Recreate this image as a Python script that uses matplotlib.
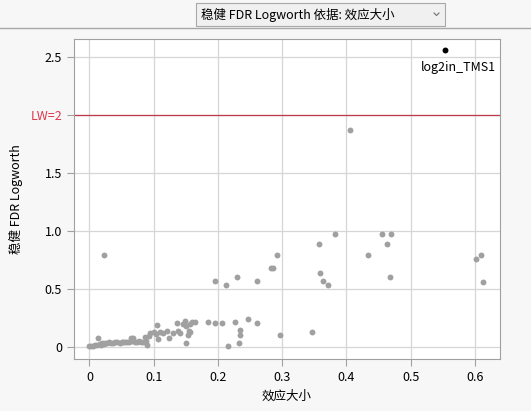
import matplotlib.pyplot as plt
from matplotlib.lines import Line2D
from matplotlib.patches import Rectangle

plt.rcParams['font.family'] = ['Noto Sans CJK SC', 'DejaVu Sans']

# gray points (effect size, robust FDR logworth)
x_gray = [0.000, 0.003, 0.006, 0.009, 0.012, 0.014, 0.016, 0.018, 0.020, 0.022,
          0.025, 0.027, 0.030, 0.033, 0.036, 0.040, 0.043, 0.047, 0.050, 0.053,
          0.056, 0.059, 0.062, 0.064, 0.066, 0.068, 0.071, 0.074, 0.077, 0.080,
          0.083, 0.086, 0.088, 0.089, 0.092,
          0.095, 0.100, 0.103, 0.105, 0.107, 0.110, 0.115, 0.120, 0.124, 0.130,
          0.136, 0.138, 0.141, 0.145, 0.148, 0.150, 0.151, 0.153, 0.155, 0.157,
          0.157, 0.160, 0.164,
          0.185, 0.196, 0.207, 0.215, 0.227, 0.233, 0.234, 0.235, 0.247, 0.261,
          0.296, 0.346,
          0.023, 0.196, 0.213, 0.230, 0.261, 0.283, 0.286, 0.292, 0.357, 0.359,
          0.363, 0.371, 0.382, 0.405, 0.433, 0.456, 0.463, 0.468, 0.469, 0.602,
          0.609, 0.613]
y_gray = [0.005, 0.008, 0.010, 0.012, 0.015, 0.075, 0.020, 0.018, 0.030, 0.025,
          0.035, 0.030, 0.038, 0.032, 0.035, 0.040, 0.038, 0.035, 0.040, 0.038,
          0.042, 0.040, 0.045, 0.072, 0.050, 0.075, 0.040, 0.045, 0.050, 0.040,
          0.045, 0.080, 0.050, 0.015, 0.095,
          0.120, 0.130, 0.110, 0.190, 0.065, 0.130, 0.120, 0.140, 0.072, 0.120,
          0.207, 0.140, 0.115, 0.200, 0.220, 0.180, 0.035, 0.100, 0.140, 0.193,
          0.124, 0.210, 0.210,
          0.216, 0.207, 0.207, 0.006, 0.216, 0.035, 0.144, 0.101, 0.236, 0.207,
          0.101, 0.124,
          0.792, 0.565, 0.530, 0.599, 0.565, 0.682, 0.682, 0.792, 0.884, 0.634,
          0.565, 0.530, 0.976, 1.870, 0.792, 0.976, 0.884, 0.599, 0.976, 0.760,
          0.792, 0.559]

# highlighted point
x_hi = [0.553]
y_hi = [2.56]
hi_label = 'log2in_TMS1'

x_ticks = [0, 0.1, 0.2, 0.3, 0.4, 0.5, 0.6]
x_ticklabels = ['0', '0.1', '0.2', '0.3', '0.4', '0.5', '0.6']
y_ticks = [0, 0.5, 1.0, 1.5, 2.0, 2.5]
y_ticklabels = ['0', '0.5', '1.0', '1.5', 'LW=2', '2.5']
lw_level = 2.0

fig = plt.figure(figsize=(5.31, 4.11), dpi=100, facecolor='#f7f7f7')
ax = fig.add_axes([74/531, 52/411, 426/531, 320/411])
ax.set_facecolor('white')

ax.scatter(x_gray, y_gray, s=18, color='#a0a0a0', linewidths=0, zorder=3)
ax.scatter(x_hi, y_hi, s=18, color='black', linewidths=0, zorder=4)
ax.annotate(hi_label, (x_hi[0], y_hi[0]), xytext=(-17, -8), textcoords='offset points',
            ha='left', va='top', fontsize=9, color='black')

ax.axhline(lw_level, color='#c0394a', lw=0.9, zorder=2)

ax.set_xlim(-0.024, 0.639)
ax.set_ylim(-0.106, 2.657)
ax.set_xticks(x_ticks)
ax.set_xticklabels(x_ticklabels)
ax.set_yticks(y_ticks)
ax.set_yticklabels(y_ticklabels)

ax.grid(True, color='#d6d6d6', lw=0.9, zorder=0)
ax.set_axisbelow(True)
for s in ax.spines.values():
    s.set_color('#a0a0a0')
ax.tick_params(colors='#a0a0a0', labelcolor='black', labelsize=9, length=5, width=0.8)
ax.get_yticklabels()[4].set_color('#e0384c')

ax.set_xlabel('效应大小', fontsize=9, labelpad=4)
ax.set_ylabel('稳健 FDR Logworth', fontsize=9)
ax.yaxis.set_label_coords(-0.12, 0.5)

# top dropdown strip
fig.add_artist(Line2D([0, 1], [1 - 28/411, 1 - 28/411], color='#a8a8a8', lw=1))
fig.add_artist(Rectangle((196/531, 1 - 26/411), 249/531, 23/411, facecolor='#f0f0f0',
                         edgecolor='#a8a8a8', lw=0.8))
fig.text(201/531, 1 - 15/411, '稳健 FDR Logworth 依据: 效应大小', fontsize=9,
         va='center', ha='left')
fig.add_artist(Line2D([434/531, 436.5/531, 439/531],
                      [1 - 13/411, 1 - 15.5/411, 1 - 13/411], color='#707070', lw=0.8))

fig.savefig('out.png', dpi=100, facecolor=fig.get_facecolor())
